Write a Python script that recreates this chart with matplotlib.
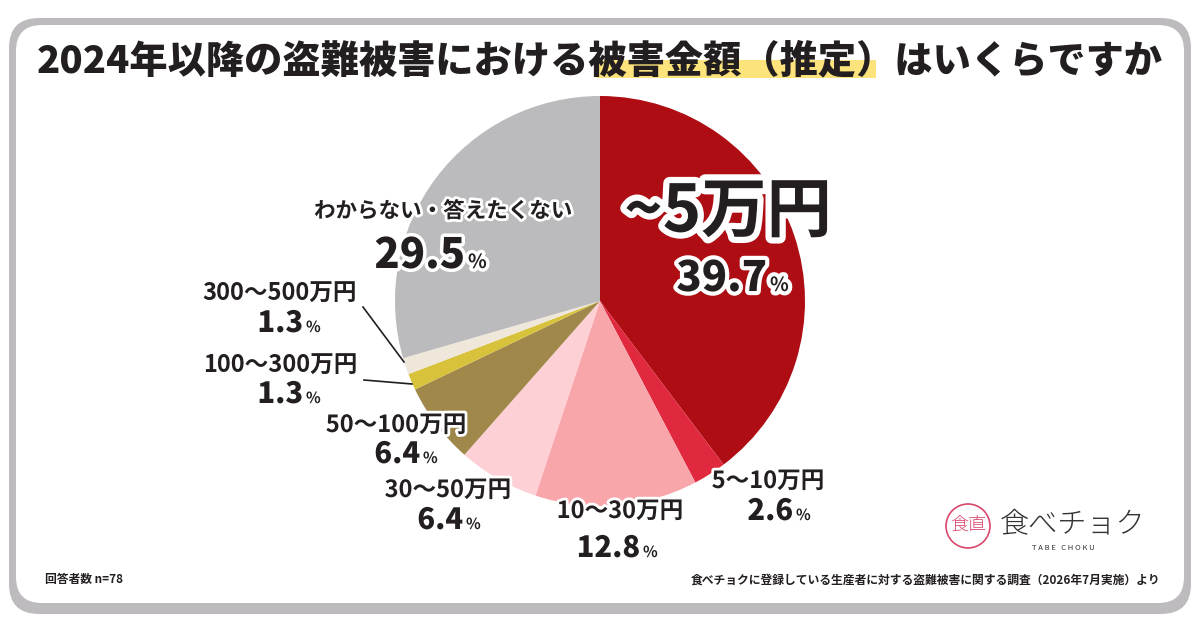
import matplotlib
matplotlib.use("Agg")
import matplotlib.pyplot as plt
from matplotlib.patches import FancyBboxPatch, Rectangle, Circle
import matplotlib.patheffects as pe

plt.rcParams['font.family'] = ['Noto Sans CJK JP', 'DejaVu Sans']

# ---- data ----
categories = ["~5万円", "5〜10万円", "10〜30万円", "30〜50万円", "50〜100万円",
              "100〜300万円", "300〜500万円", "わからない・答えたくない"]
values = [39.7, 2.6, 12.8, 6.4, 6.4, 1.3, 1.3, 29.5]
colors = ["#AE0E13", "#E0283E", "#F9A6AB", "#FCD0D5", "#A0884A",
          "#D8C23C", "#EEE7DA", "#BBBABD"]
title = "2024年以降の盗難被害における被害金額（推定）はいくらですか"
note_left = "回答者数 n=78"
note_right = "食べチョクに登録している生産者に対する盗難被害に関する調査（2026年7月実施）より"

W, H = 1200, 630
fig = plt.figure(figsize=(W / 100, H / 100), dpi=100)

# background frame
bg = fig.add_axes([0, 0, 1, 1], zorder=0)
bg.set_xlim(0, W); bg.set_ylim(H, 0); bg.axis('off')
bg.add_patch(FancyBboxPatch((9, 18), 1182, 596, boxstyle="round,pad=0,rounding_size=30",
                            fc="#BDBBBE", ec="none"))
bg.add_patch(FancyBboxPatch((16, 25), 1168, 578, boxstyle="round,pad=0,rounding_size=26",
                            fc="white", ec="none"))
# title highlight
bg.add_patch(Rectangle((596, 60), 280, 18, fc="#FCE37C", ec="none"))

# pie
cx, cy, r = 600, 301, 205
pax = fig.add_axes([(cx - r) / W, (H - cy - r) / H, 2 * r / W, 2 * r / H], zorder=1)
pax.pie(values, colors=colors, startangle=90, counterclock=False, radius=1,
        wedgeprops=dict(linewidth=0))
pax.set_xlim(-1, 1); pax.set_ylim(-1, 1); pax.set_aspect('equal'); pax.axis('off')

# overlay text axes
ax = fig.add_axes([0, 0, 1, 1], zorder=2)
ax.set_xlim(0, W); ax.set_ylim(H, 0); ax.axis('off')
ax.patch.set_alpha(0)

TXT = "#231F20"
ax.text(600, 61, title, ha='center', va='center', fontsize=27.5, fontweight='heavy', color=TXT)

def stroke(w):
    return [pe.withStroke(linewidth=w, foreground='white')]

def pct(xr, yb, val, size=21, psize=11, sw=4):
    ax.text(xr, yb, f"{val}", ha='right', va='baseline', fontsize=size, fontweight='heavy',
            color=TXT, path_effects=stroke(sw))
    ax.text(xr + 3, yb, "%", ha='left', va='baseline', fontsize=psize, fontweight='bold',
            color=TXT, path_effects=stroke(sw))

LS = 17  # label size

# main slice label
ax.text(728, 212, categories[0], ha='center', va='center', fontsize=47, fontweight='bold',
        color=TXT, path_effects=stroke(9))
pct(767, 291, values[0], size=30, psize=14, sw=6)

# unknown
ax.text(443, 211, categories[7], ha='center', va='center', fontsize=15.5, fontweight='bold',
        color=TXT, path_effects=stroke(4))
pct(465, 268, values[7], size=30, psize=14, sw=5)

# small labels
ax.text(280, 294, categories[6], ha='center', va='center', fontsize=LS, fontweight='bold', color=TXT)
pct(303, 332, values[6])
ax.text(280, 366, categories[5], ha='center', va='center', fontsize=LS, fontweight='bold', color=TXT)
pct(303, 403, values[5])
ax.text(396, 425, categories[4], ha='center', va='center', fontsize=LS, fontweight='bold',
        color=TXT, path_effects=stroke(4))
pct(420, 463, values[4])
ax.text(448, 490, categories[3], ha='center', va='center', fontsize=LS, fontweight='bold',
        color=TXT, path_effects=stroke(4))
pct(463, 529, values[3])
ax.text(620, 511, categories[2], ha='center', va='center', fontsize=LS, fontweight='bold',
        color=TXT, path_effects=stroke(4))
pct(640, 557, values[2])
ax.text(768, 481, categories[1], ha='center', va='center', fontsize=LS, fontweight='bold',
        color=TXT, path_effects=stroke(4))
pct(793, 520, values[1])

# leader lines
ax.plot([363, 404], [307, 362], color=TXT, lw=1.2)
ax.plot([364, 412], [380, 384], color=TXT, lw=1.2)

# footer
ax.text(45, 580, note_left, ha='left', va='center', fontsize=8.5, fontweight='bold', color=TXT)
ax.text(1160, 580, note_right, ha='right', va='center', fontsize=8.5, fontweight='bold', color=TXT)

# logo
pink = "#D9466B"
ax.add_patch(Circle((968, 526), 22, fill=False, ec=pink, lw=1.2))
ax.text(968, 526, "食直", ha='center', va='center', fontsize=13, color=pink, fontweight='light')
ax.text(1000, 524, "食べチョク", ha='left', va='center', fontsize=21, color="#333333", fontweight='light')
ax.text(1063, 548, "T A B E   C H O K U", ha='center', va='center', fontsize=5.5, color="#333333")

fig.savefig("out.png", dpi=100)
